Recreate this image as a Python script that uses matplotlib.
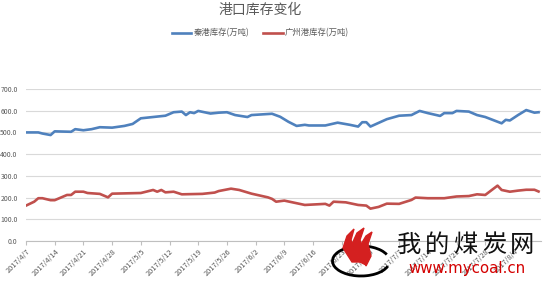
import matplotlib
matplotlib.use("Agg")
import matplotlib.pyplot as plt
from matplotlib.patches import Arc, Polygon
import pandas as pd

plt.rcParams['font.family'] = ['Noto Sans CJK SC', 'DejaVu Sans']

title = "港口库存变化"
series_names = ["秦港库存(万吨)", "广州港库存(万吨)"]
start_date = "2017-04-07"

qhd_days = [0, 3, 4, 6, 7, 11, 12, 14, 16, 18, 21, 24, 26, 28, 32, 34, 36, 38, 39, 40, 41, 42,
            45, 47, 49, 51, 54, 55, 60, 62, 64, 66, 68, 69, 73, 76, 79, 81, 82, 83, 84, 88,
            91, 94, 96, 98, 101, 102, 104, 105, 108, 110, 112, 116, 117, 118, 120, 122, 124, 125]
qhd_vals = [500, 500, 495, 488, 505, 503, 515, 510, 515, 524, 522, 530, 539, 565, 573, 577, 593, 596, 580, 593, 589, 599,
            587, 591, 593, 580, 571, 580, 586, 572, 549, 530, 535, 532, 532, 545, 535, 527, 547, 547, 527, 561,
            577, 580, 599, 589, 576, 589, 589, 599, 596, 580, 571, 542, 558, 555, 580, 603, 591, 593]

gz_days = [0, 2, 3, 4, 6, 7, 10, 11, 12, 14, 15, 18, 20, 21, 28, 31, 32, 33, 34, 36, 38, 43,
           46, 47, 50, 52, 55, 59, 60, 61, 63, 66, 68, 73, 74, 75, 78, 81, 83, 84, 86, 88,
           91, 94, 95, 98, 102, 105, 108, 110, 112, 115, 116, 118, 120, 122, 124, 125]
gz_vals = [163, 181, 197, 197, 188, 188, 212, 212, 227, 227, 221, 217, 201, 218, 221, 235, 227, 235, 224, 227, 215, 217,
           223, 230, 241, 235, 218, 201, 194, 181, 186, 174, 166, 171, 163, 181, 178, 166, 163, 149, 157, 172,
           171, 189, 200, 197, 197, 205, 207, 215, 212, 255, 235, 227, 232, 236, 236, 228]

y_ticks = [0, 100, 200, 300, 400, 500, 600, 700]

W, H = 548, 293
fig = plt.figure(figsize=(W / 100, H / 100), dpi=100)
ax = fig.add_axes([26 / W, 52 / H, (541 - 26) / W, (241 - 89) / H])

t0 = pd.Timestamp(start_date)
qhd_dates = [t0 + pd.Timedelta(days=d) for d in qhd_days]
gz_dates = [t0 + pd.Timedelta(days=d) for d in gz_days]

blue = "#4f81bd"
red = "#c0504d"
ax.plot(qhd_dates, qhd_vals, color=blue, lw=1.9, solid_joinstyle='round', zorder=3)
ax.plot(gz_dates, gz_vals, color=red, lw=1.9, solid_joinstyle='round', zorder=3)

ax.set_ylim(0, 700)
ax.set_yticks(y_ticks)
ax.set_yticklabels([f"{v:.1f}" for v in y_ticks])
ax.set_xlim(t0, t0 + pd.Timedelta(days=125.6))
xt = [t0 + pd.Timedelta(days=7 * i) for i in range(18)]
ax.set_xticks(xt)
ax.set_xticklabels([f"{d.year}/{d.month}/{d.day}" for d in xt], rotation=45, ha='right',
                   rotation_mode='anchor')
ax.grid(axis='y', color='#d9d9d9', lw=0.8)
ax.set_axisbelow(True)
for s in ['top', 'right', 'left']:
    ax.spines[s].set_visible(False)
ax.spines['bottom'].set_color('#bfbfbf')
ax.spines['bottom'].set_linewidth(0.8)
ax.tick_params(axis='y', length=0, labelsize=5, labelcolor='#595959', pad=6)
ax.tick_params(axis='x', length=3, color='#bfbfbf', labelsize=5.3, labelcolor='#595959', pad=2)

fig.text(260 / W, 1 - 10 / H, title, ha='center', va='center', fontsize=10, color='#595959')

# legend
ly = 1 - 33 / H
fig.lines.append(plt.Line2D([172 / W, 191 / W], [ly, ly], color=blue, lw=1.9, transform=fig.transFigure))
fig.text(194 / W, ly, series_names[0], ha='left', va='center', fontsize=6, color='#595959')
fig.lines.append(plt.Line2D([263 / W, 283 / W], [ly, ly], color=red, lw=1.9, transform=fig.transFigure))
fig.text(285 / W, ly, series_names[1], ha='left', va='center', fontsize=6, color='#595959')

# watermark
wm = "我的煤炭网"
for i, ch in enumerate(wm):
    fig.text((395 + 14.3 + 28.2 * i) / W, 1 - 245 / H, ch, ha='center', va='center',
             fontsize=17.5, color='#111111', fontweight='medium')
fig.text(467 / W, 1 - 269 / H, "www.mycoal.cn", ha='center', va='center', fontsize=10.8,
         color='#d40000', family=['DejaVu Sans'])
fig.patches.append(Arc((361 / W, 1 - 261 / H), 57 / W, 30 / H, theta1=25, theta2=340,
                       transform=fig.transFigure, color='black', lw=2))
flames = [
    [(343, 248), (347, 236), (354, 229), (351, 240), (355, 252), (360, 262), (352, 262)],
    [(352, 244), (357, 233), (364, 228), (360, 240), (364, 252), (366, 265), (360, 262)],
    [(360, 246), (366, 236), (372, 232), (368, 244), (371, 256), (366, 266)],
]
for fl in flames:
    fig.patches.append(Polygon([(x / W, 1 - y / H) for x, y in fl], closed=True,
                               transform=fig.transFigure, color='#d42020'))

fig.savefig("out.png", dpi=100)
